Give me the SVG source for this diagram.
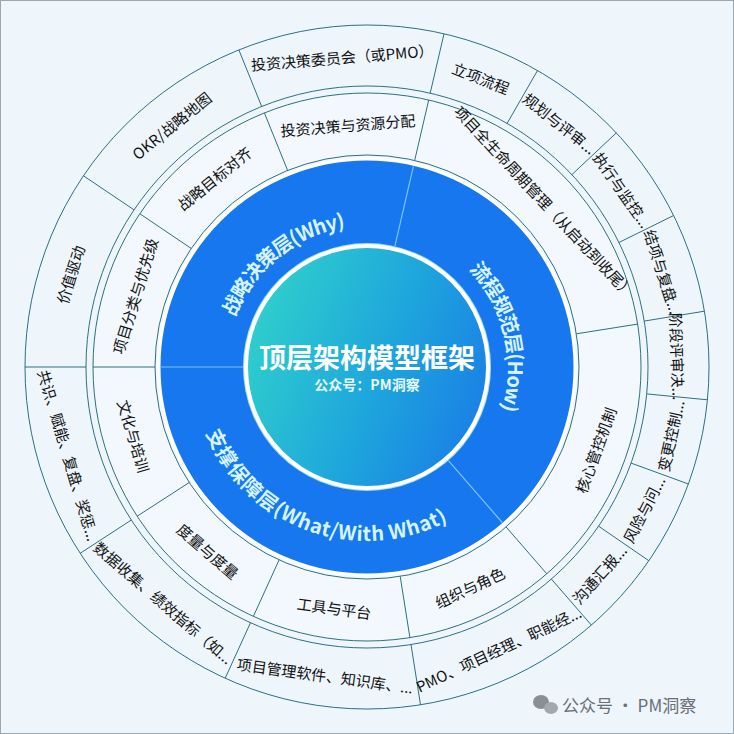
<svg xmlns="http://www.w3.org/2000/svg" width="734" height="734" viewBox="0 0 734 734">
<style>
.ring{stroke:#2f6f80;stroke-width:1}
.div{stroke:#2f6f80;stroke-width:1}
.t{font-family:"Noto Sans CJK SC","Liberation Sans",sans-serif;font-size:15px;fill:#111;text-anchor:middle;dominant-baseline:central}
.b{font-family:"Noto Sans CJK SC","Liberation Sans",sans-serif;font-size:20px;font-weight:bold;fill:#d4f5ff;text-anchor:middle;dominant-baseline:central}
</style>
<defs>
<linearGradient id="cg" x1="0" y1="0.3" x2="1" y2="0.7">
<stop offset="0" stop-color="#2fd0cc"/><stop offset="0.55" stop-color="#1ea6dc"/><stop offset="1" stop-color="#1a7fe6"/>
</linearGradient>
<path id="pWhy" d="M219.3,341 A150,150 0 0 1 372.2,217.1"/>
<path id="pHow" d="M442,237.1 A150,150 0 0 1 491.4,450.9"/>
<path id="pWhat" d="M207.6,409.7 A165,165 0 0 0 461.6,502.2"/>
</defs>
<rect x="0.5" y="0.5" width="733" height="733" fill="#eef5fb" stroke="#9aa8b4"/>
<g id="rings">
<circle cx="367" cy="367" r="342" fill="#eef6fc" class="ring"/>
<circle cx="367" cy="367" r="281" fill="#eef6fc" class="ring"/>
<circle cx="367" cy="367" r="274" fill="#f2f8fd" class="ring"/>
<circle cx="367" cy="367" r="212" fill="#f2f8fd" class="ring"/>
<circle cx="367" cy="367" r="208" fill="#1677ee" stroke="#ffffff" stroke-width="3"/>
<circle cx="367" cy="367" r="124" fill="#9fe0f5"/>
<circle cx="367" cy="367" r="121" fill="url(#cg)" stroke="#ffffff" stroke-width="4"/>
</g>
<g id="connectors">
<g class="div">
<line x1="414.7" y1="160.4" x2="428.7" y2="100"/>
<line x1="576.4" y1="333.8" x2="637.6" y2="324.1"/>
<line x1="506.1" y1="527" x2="546.8" y2="573.8"/>
<line x1="400.2" y1="576.4" x2="409.9" y2="637.6"/>
<line x1="279.1" y1="559.9" x2="253.4" y2="616.3"/>
<line x1="189.2" y1="482.5" x2="137.2" y2="516.2"/>
<line x1="155" y1="367" x2="93" y2="367"/>
<line x1="191.3" y1="248.5" x2="139.9" y2="213.8"/>
<line x1="287.6" y1="170.4" x2="264.4" y2="112.9"/>
<line x1="430.2" y1="93.2" x2="444" y2="33.8"/>
<line x1="507.1" y1="123.4" x2="537.5" y2="70.5"/>
<line x1="571.8" y1="174.7" x2="616.3" y2="132.9"/>
<line x1="618.9" y1="242.5" x2="673.6" y2="215.5"/>
<line x1="644.2" y1="321.1" x2="704.4" y2="311.2"/>
<line x1="646.7" y1="393.9" x2="707.4" y2="399.8"/>
<line x1="631.1" y1="463.1" x2="688.4" y2="484"/>
<line x1="598.6" y1="526.2" x2="648.8" y2="560.7"/>
<line x1="551.4" y1="579.1" x2="591.4" y2="625.1"/>
<line x1="411" y1="644.5" x2="420.5" y2="704.8"/>
<line x1="250.5" y1="622.7" x2="225.2" y2="678.2"/>
<line x1="131.3" y1="520" x2="80.2" y2="553.3"/>
<line x1="86" y1="367" x2="25" y2="367"/>
<line x1="134.1" y1="209.9" x2="83.5" y2="175.8"/>
<line x1="261.7" y1="106.5" x2="238.9" y2="50"/>
</g>
<g stroke="#7cc4f2" stroke-width="1.2">
<line x1="394.9" y1="246.2" x2="413.4" y2="166.3"/>
<line x1="448.4" y1="460.6" x2="502.2" y2="522.5"/>
<line x1="243" y1="367" x2="161" y2="367"/>
</g>
</g>
<g id="center">
<text x="367" y="356" font-family="Noto Sans CJK SC,sans-serif" font-size="27" font-weight="bold" fill="#ffffff" text-anchor="middle" dominant-baseline="central">顶层架构模型框架</text>
<text x="367" y="384" font-family="Noto Sans CJK SC,sans-serif" font-size="14" font-weight="bold" fill="#e6fbff" text-anchor="middle" dominant-baseline="central">公众号：PM洞察</text>
</g>
<g id="why"><text class="b"><textPath href="#pWhy" startOffset="50%">战略决策层(Why)</textPath></text></g>
<g id="how"><text class="b"><textPath href="#pHow" startOffset="50%">流程规范层(How)</textPath></text></g>
<g id="what"><text class="b" font-size="19"><textPath href="#pWhat" startOffset="50%">支撑保障层(What/With What)</textPath></text></g>
<g id="middle">
<text class="t" transform="translate(134.6,295.9) rotate(-73)">项目分类与优先级</text>
<text class="t" transform="translate(214.1,178.2) rotate(-39)">战略目标对齐</text>
<text class="t" transform="translate(347.9,124.8) rotate(-4.5)">投资决策与资源分配</text>
<text class="t" transform="translate(544.7,201.3) rotate(47)">项目全生命周期管理（从启动到收尾）</text>
<text class="t" transform="translate(595.3,450.1) rotate(-70)">核心管控机制</text>
<text class="t" transform="translate(469.7,587.2) rotate(-25)">组织与角色</text>
<text class="t" transform="translate(334.2,607.8) rotate(7.75)">工具与平台</text>
<text class="t" transform="translate(208.2,550.9) rotate(40.75)">度量与度量</text>
<text class="t" transform="translate(134,436) rotate(73.5)">文化与培训</text>
</g>
<g id="outer">
<text class="t" transform="translate(70.1,274.5) rotate(-72.7)">价值驱动</text>
<text class="t" transform="translate(171.3,125.3) rotate(-39)">OKR/战略地图</text>
<text class="t" transform="translate(342.1,57) rotate(-4.6)">投资决策委员会（或PMO）</text>
<text class="t" transform="translate(481,77.6) rotate(21.5)">立项流程</text>
<text class="t" transform="translate(559.9,123.1) rotate(38.35)">规划与评审...</text>
<text class="t" transform="translate(622.5,189.7) rotate(55.25)">执行与监控...</text>
<text class="t" transform="translate(663,271.6) rotate(72.15)">结项与复盘...</text>
<text class="t" transform="translate(677.8,356.4) rotate(88.05)">阶段评审决...</text>
<text class="t" transform="translate(670.3,435.6) rotate(-77.25)">变更控制...</text>
<text class="t" transform="translate(643.5,509.4) rotate(-62.75)">风险与问...</text>
<text class="t" transform="translate(599.1,574.1) rotate(-48.25)">沟通汇报...</text>
<text class="t" transform="translate(498.4,648.9) rotate(-25)">PMO、项目经理、职能经...</text>
<text class="t" transform="translate(325.1,675.2) rotate(7.75)">项目管理软件、知识库、...</text>
<text class="t" transform="translate(163.8,602.4) rotate(40.75)">数据收集、绩效指标（如...</text>
<text class="t" transform="translate(68.8,455.3) rotate(73.5)">共识、赋能、复盘、奖惩...</text>
</g>
<g id="watermark">
<ellipse cx="541" cy="702" rx="8" ry="7" fill="#8a8f96"/>
<ellipse cx="551" cy="708" rx="7" ry="6" fill="#a3a8ae"/>
<text x="562" y="704" font-family="Noto Sans CJK SC,sans-serif" font-size="17" fill="#6a6f76" dominant-baseline="central">公众号 · PM洞察</text>
</g>
</svg>
